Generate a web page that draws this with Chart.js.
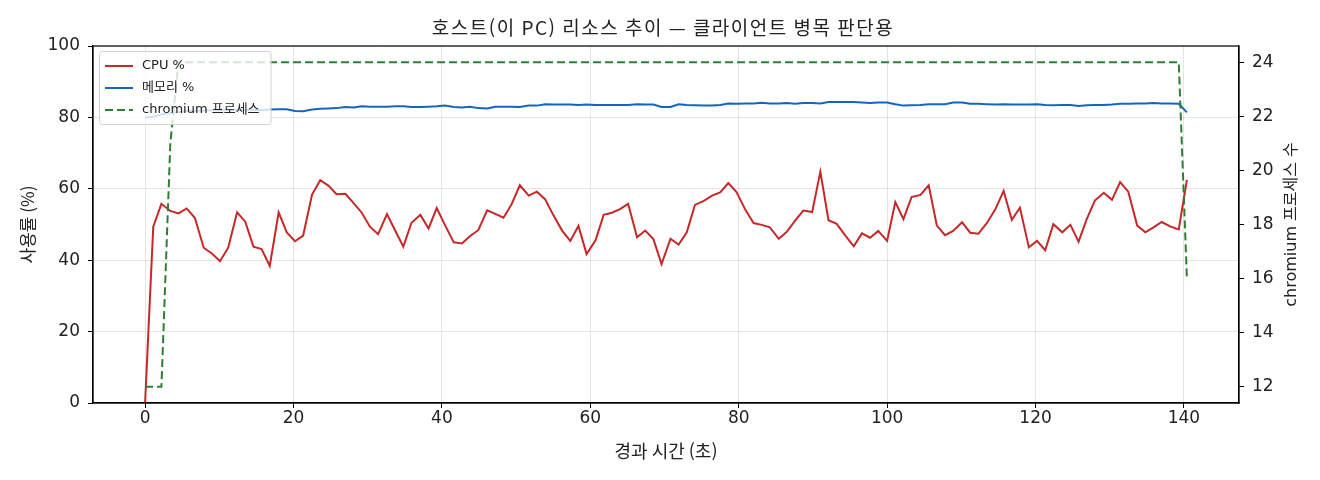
<!DOCTYPE html>
<html lang="ko">
<head>
<meta charset="utf-8">
<title>호스트 리소스 추이</title>
<script src="https://cdn.jsdelivr.net/npm/chart.js@4.4.1/dist/chart.umd.min.js"></script>
<style>
    html, body { margin: 0; padding: 0; background: #fff; }
    #wrap { width: 1320px; height: 480px; }
</style>
</head>
<body>
<div id="wrap"><canvas id="resChart" width="1320" height="480"></canvas></div>
<script>
// 경과 시간 (초)
const times = [
    0.0, 1.1, 2.2, 3.4, 4.5, 5.6, 6.7, 7.9, 9.0, 10.1,
    11.2, 12.4, 13.5, 14.6, 15.7, 16.8, 18.0, 19.1, 20.2, 21.3,
    22.5, 23.6, 24.7, 25.8, 27.0, 28.1, 29.2, 30.3, 31.4, 32.6,
    33.7, 34.8, 35.9, 37.1, 38.2, 39.3, 40.4, 41.6, 42.7, 43.8,
    44.9, 46.1, 47.2, 48.3, 49.4, 50.5, 51.7, 52.8, 53.9, 55.0,
    56.2, 57.3, 58.4, 59.5, 60.7, 61.8, 62.9, 64.0, 65.1, 66.3,
    67.4, 68.5, 69.6, 70.8, 71.9, 73.0, 74.1, 75.3, 76.4, 77.5,
    78.6, 79.7, 80.9, 82.0, 83.1, 84.2, 85.4, 86.5, 87.6, 88.7,
    89.9, 91.0, 92.1, 93.2, 94.3, 95.5, 96.6, 97.7, 98.8, 100.0,
    101.1, 102.2, 103.3, 104.5, 105.6, 106.7, 107.8, 108.9, 110.1, 111.2,
    112.3, 113.4, 114.6, 115.7, 116.8, 117.9, 119.1, 120.2, 121.3, 122.4,
    123.6, 124.7, 125.8, 126.9, 128.0, 129.2, 130.3, 131.4, 132.5, 133.7,
    134.8, 135.9, 137.0, 138.2, 139.3, 140.4
];

const cpuPct = [
    0, 49.4, 55.8, 53.8, 53.1, 54.5, 51.9, 43.5, 41.9, 39.7,
    43.5, 53.4, 50.8, 43.8, 43.1, 38.4, 53.4, 47.8, 45.3, 46.9,
    58.4, 62.4, 60.9, 58.5, 58.6, 56.0, 53.3, 49.4, 47.3, 52.9,
    48.3, 43.8, 50.5, 52.7, 48.9, 54.6, 49.9, 45.0, 44.7, 46.8,
    48.4, 54.0, 53.0, 51.9, 55.7, 61.0, 58.1, 59.2, 57.1, 52.7,
    48.3, 45.4, 49.6, 41.7, 45.6, 52.7, 53.3, 54.3, 55.8, 46.4,
    48.3, 45.9, 38.9, 46.0, 44.4, 47.8, 55.5, 56.6, 58.1, 59.0,
    61.6, 59.1, 54.1, 50.4, 49.9, 49.2, 46.0, 48.0, 51.1, 53.9,
    53.5, 64.8, 51.2, 50.2, 47.1, 43.9, 47.5, 46.3, 48.2, 45.4,
    56.3, 51.5, 57.7, 58.3, 61.0, 49.7, 47.0, 48.2, 50.6, 47.7,
    47.4, 50.3, 54.3, 59.4, 51.3, 54.7, 43.6, 45.4, 42.8, 50.1,
    47.8, 49.9, 45.2, 51.5, 56.7, 58.9, 56.9, 61.9, 59.2, 49.7,
    47.8, 49.2, 50.7, 49.4, 48.6, 62.5
];

const memPct = [
    80.0, 80.2, 80.8, 81.2, 81.5, 81.7, 81.8, 81.9, 82.0, 82.0,
    82.1, 82.1, 82.0, 82.1, 82.1, 82.2, 82.3, 82.3, 81.8, 81.7,
    82.2, 82.4, 82.5, 82.6, 82.9, 82.8, 83.1, 83.0, 83.0, 83.0,
    83.1, 83.1, 82.9, 82.9, 83.0, 83.1, 83.3, 82.9, 82.8, 83.0,
    82.6, 82.5, 83.0, 83.0, 83.0, 82.9, 83.3, 83.3, 83.7, 83.6,
    83.6, 83.6, 83.5, 83.6, 83.5, 83.5, 83.5, 83.5, 83.5, 83.7,
    83.6, 83.6, 82.9, 82.9, 83.7, 83.5, 83.4, 83.3, 83.3, 83.5,
    83.9, 83.8, 83.9, 83.9, 84.1, 83.9, 83.9, 84.0, 83.8, 84.0,
    84.0, 83.9, 84.3, 84.3, 84.3, 84.3, 84.2, 84.0, 84.2, 84.2,
    83.7, 83.3, 83.4, 83.5, 83.7, 83.7, 83.7, 84.2, 84.2, 83.8,
    83.8, 83.7, 83.6, 83.7, 83.6, 83.6, 83.6, 83.7, 83.5, 83.4,
    83.5, 83.5, 83.2, 83.4, 83.5, 83.5, 83.6, 83.8, 83.8, 83.9,
    83.9, 84.0, 83.9, 83.9, 83.8, 81.4
];

const chromiumProcs = [
    12, 12, 12, 21, 24, 24, 24, 24, 24, 24,
    24, 24, 24, 24, 24, 24, 24, 24, 24, 24,
    24, 24, 24, 24, 24, 24, 24, 24, 24, 24,
    24, 24, 24, 24, 24, 24, 24, 24, 24, 24,
    24, 24, 24, 24, 24, 24, 24, 24, 24, 24,
    24, 24, 24, 24, 24, 24, 24, 24, 24, 24,
    24, 24, 24, 24, 24, 24, 24, 24, 24, 24,
    24, 24, 24, 24, 24, 24, 24, 24, 24, 24,
    24, 24, 24, 24, 24, 24, 24, 24, 24, 24,
    24, 24, 24, 24, 24, 24, 24, 24, 24, 24,
    24, 24, 24, 24, 24, 24, 24, 24, 24, 24,
    24, 24, 24, 24, 24, 24, 24, 24, 24, 24,
    24, 24, 24, 24, 24, 16
];

const timeTicks = [0, 20, 40, 60, 80, 100, 120, 140];
const pctTicks = [0, 20, 40, 60, 80, 100];
const procTicks = [12, 14, 16, 18, 20, 22, 24];

const chartTitle = '호스트(이 PC) 리소스 추이 — 클라이언트 병목 판단용';
const rightTitle = 'chromium 프로세스 수';

const FONT = "'DejaVu Sans', 'Noto Sans CJK KR', sans-serif";
const KFONT = "'Noto Sans CJK KR', 'DejaVu Sans', sans-serif";

const toPoints = (ys) => ys.map((y, i) => ({ x: times[i], y: y }));
const fixTicks = (list) => (scale) => { scale.ticks = list.map(v => ({ value: v })); };

// 제목, 테두리, 오른쪽 축 제목, 범례 (차트 영역 안쪽)
const framePlugin = {
    id: 'frame',
    afterDraw(chart) {
        const { ctx, chartArea: a } = chart;
        ctx.save();
        ctx.strokeStyle = '#000';
        ctx.lineWidth = 1.2;
        ctx.strokeRect(a.left, a.top, a.right - a.left, a.bottom - a.top);

        // 차트 제목
        ctx.fillStyle = '#222';
        ctx.font = '19px ' + KFONT;
        ctx.textAlign = 'center';
        ctx.textBaseline = 'middle';
        if ('letterSpacing' in ctx) ctx.letterSpacing = '1.5px';
        ctx.fillText(chartTitle, (a.left + a.right) / 2 - 3, 28);
        if ('letterSpacing' in ctx) ctx.letterSpacing = '0px';

        // 오른쪽 축 제목
        ctx.font = '16px ' + FONT;
        ctx.translate(1292, (a.top + a.bottom) / 2);
        ctx.rotate(-Math.PI / 2);
        ctx.fillText(rightTitle, 0, 0);
        ctx.restore();

        // 범례
        ctx.save();
        ctx.font = '13px ' + FONT;
        const items = chart.data.datasets;
        const bx = a.left + 6, by = a.top + 5;
        let maxW = 0;
        items.forEach(d => { maxW = Math.max(maxW, ctx.measureText(d.label).width); });
        const bw = 49 + maxW + 5, bh = 73;
        ctx.fillStyle = 'rgba(255,255,255,0.8)';
        ctx.strokeStyle = 'rgba(204,204,204,0.9)';
        ctx.lineWidth = 1;
        ctx.beginPath();
        ctx.roundRect(bx + 0.5, by + 0.5, bw, bh, 3);
        ctx.fill();
        ctx.stroke();
        items.forEach((d, i) => {
            const yy = by + 15 + i * 22;
            ctx.strokeStyle = d.borderColor;
            ctx.lineWidth = 2;
            ctx.setLineDash(d.borderDash || []);
            ctx.beginPath();
            ctx.moveTo(bx + 6, yy);
            ctx.lineTo(bx + 34, yy);
            ctx.stroke();
            ctx.setLineDash([]);
            ctx.fillStyle = '#222';
            ctx.textAlign = 'left';
            ctx.textBaseline = 'middle';
            ctx.fillText(d.label, bx + 43, yy);
        });
        ctx.restore();
    }
};

const ctx = document.getElementById('resChart').getContext('2d');

const resChart = new Chart(ctx, {
    type: 'line',
    data: {
        datasets: [
            {
                label: 'CPU %',
                data: toPoints(cpuPct),
                borderColor: '#c62828',
                borderWidth: 2,
                pointRadius: 0,
                tension: 0,
                yAxisID: 'y',
                order: 2
            },
            {
                label: '메모리 %',
                data: toPoints(memPct),
                borderColor: '#1565c0',
                borderWidth: 2,
                pointRadius: 0,
                tension: 0,
                yAxisID: 'y',
                order: 1
            },
            {
                label: 'chromium 프로세스',
                data: toPoints(chromiumProcs),
                borderColor: '#2e7d32',
                borderWidth: 2,
                borderDash: [8, 4],
                pointRadius: 0,
                tension: 0,
                yAxisID: 'y1',
                order: 0
            }
        ]
    },
    options: {
        responsive: false,
        animation: false,
        devicePixelRatio: 1,
        layout: { padding: { top: 46, left: 0, right: 0, bottom: 0 } },
        scales: {
            x: {
                type: 'linear',
                min: -7.02,
                max: 147.42,
                afterBuildTicks: fixTicks(timeTicks),
                afterFit: (scale) => { scale.height = 77; },
                grid: {
                    color: 'rgba(0,0,0,0.1)',
                    tickColor: '#000',
                    tickLength: 5
                },
                border: { color: '#000', width: 1.2 },
                ticks: {
                    padding: 0,
                    maxRotation: 0,
                    color: '#222',
                    font: { size: 17, family: FONT }
                },
                title: {
                    display: true,
                    text: '경과 시간 (초)',
                    color: '#222',
                    padding: { top: 0, bottom: 18 },
                    font: { size: 18, family: KFONT }
                }
            },
            y: {
                position: 'left',
                min: 0,
                max: 100,
                afterBuildTicks: fixTicks(pctTicks),
                afterFit: (scale) => { scale.width = 93; },
                grid: {
                    color: 'rgba(0,0,0,0.1)',
                    tickColor: '#000',
                    tickLength: 5
                },
                border: { color: '#000', width: 1.2 },
                ticks: {
                    padding: 8,
                    color: '#222',
                    font: { size: 17, family: FONT }
                },
                title: {
                    display: true,
                    text: '사용률 (%)',
                    color: '#222',
                    padding: { top: 17, bottom: 0 },
                    font: { size: 17, family: KFONT }
                }
            },
            y1: {
                position: 'right',
                min: 11.4,
                max: 24.6,
                afterBuildTicks: fixTicks(procTicks),
                afterFit: (scale) => { scale.width = 81; },
                grid: {
                    drawOnChartArea: false,
                    tickColor: '#000',
                    tickLength: 5
                },
                border: { color: '#000', width: 1.2 },
                ticks: {
                    padding: 8,
                    color: '#222',
                    font: { size: 17, family: FONT }
                }
            }
        },
        plugins: {
            legend: { display: false },
            tooltip: { enabled: false },
            title: { display: false }
        }
    },
    plugins: [framePlugin]
});
</script>
</body>
</html>
